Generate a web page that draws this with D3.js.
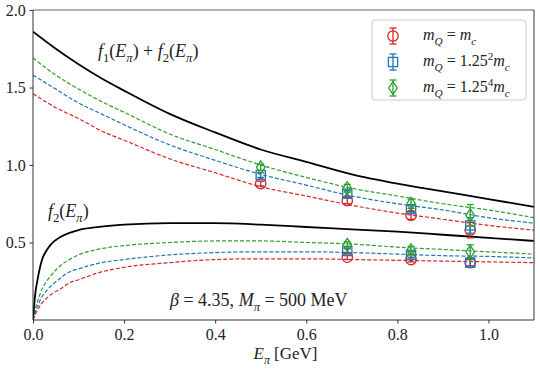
<!DOCTYPE html>
<html>
<head>
<meta charset="utf-8">
<script src="https://cdn.jsdelivr.net/npm/d3@7"></script>
<style>
  body { margin: 0; background: #fff; }
  svg text { font-family: "Liberation Serif", "Times New Roman", "DejaVu Serif", serif; fill: #222; }
</style>
</head>
<body>
<div id="chart"></div>
<script>
const SERIF = "'Liberation Serif', 'Times New Roman', 'DejaVu Serif', serif";

// grid of E_pi values for the smooth curves
const gridUpper = [0, 0.05, 0.1, 0.15, 0.2, 0.3, 0.4, 0.5, 0.6, 0.7, 0.8, 0.9, 1.0, 1.1];
const sumBlack = [1.86, 1.75, 1.65, 1.56, 1.48, 1.33, 1.21, 1.10, 1.02, 0.94, 0.88, 0.83, 0.78, 0.73];
const sumGreen = [1.69, 1.58, 1.49, 1.41, 1.34, 1.20, 1.10, 1.00, 0.92, 0.85, 0.80, 0.75, 0.71, 0.66];
const sumBlue = [1.58, 1.49, 1.40, 1.33, 1.26, 1.13, 1.03, 0.94, 0.87, 0.80, 0.75, 0.71, 0.66, 0.625];
const sumRed = [1.46, 1.37, 1.30, 1.22, 1.16, 1.04, 0.95, 0.86, 0.80, 0.74, 0.69, 0.65, 0.61, 0.58];

const gridLower = [0, 0.005, 0.01, 0.02, 0.03, 0.04, 0.06, 0.08, 0.1, 0.15, 0.2, 0.3, 0.4, 0.5, 0.6, 0.7, 0.8, 0.9, 1.0, 1.1];
const f2Black = [0, 0.17, 0.26, 0.39, 0.45, 0.49, 0.535, 0.562, 0.58, 0.602, 0.615, 0.625, 0.625, 0.615, 0.60, 0.585, 0.57, 0.55, 0.53, 0.51];
const f2Green = [0, 0.07, 0.12, 0.20, 0.25, 0.29, 0.35, 0.39, 0.42, 0.46, 0.48, 0.50, 0.51, 0.51, 0.50, 0.49, 0.47, 0.455, 0.44, 0.425];
const f2Blue = [0, 0.05, 0.09, 0.15, 0.19, 0.22, 0.27, 0.31, 0.33, 0.37, 0.39, 0.42, 0.435, 0.44, 0.44, 0.435, 0.425, 0.415, 0.41, 0.40];
const f2Red = [0, 0.035, 0.065, 0.11, 0.14, 0.165, 0.20, 0.24, 0.26, 0.31, 0.34, 0.37, 0.39, 0.395, 0.395, 0.39, 0.385, 0.38, 0.375, 0.37];

// lattice points: [E, value, error]
const ptsSumRed = [[0.5, 0.88, 0.015], [0.69, 0.77, 0.02], [0.83, 0.675, 0.025], [0.96, 0.58, 0.05]];
const ptsSumBlue = [[0.5, 0.935, 0.015], [0.69, 0.815, 0.02], [0.83, 0.715, 0.025], [0.96, 0.61, 0.05]];
const ptsSumGreen = [[0.5, 0.985, 0.02], [0.69, 0.85, 0.025], [0.83, 0.75, 0.03], [0.96, 0.675, 0.07]];
const ptsF2Red = [[0.69, 0.405, 0.015], [0.83, 0.39, 0.015], [0.96, 0.37, 0.02]];
const ptsF2Blue = [[0.69, 0.445, 0.015], [0.83, 0.42, 0.02], [0.96, 0.37, 0.03]];
const ptsF2Green = [[0.69, 0.485, 0.02], [0.83, 0.45, 0.025], [0.96, 0.44, 0.045]];

const xTicks = [0, 0.2, 0.4, 0.6, 0.8, 1.0];
const yTicks = [0.5, 1.0, 1.5, 2.0];

const RED = "#d62728", BLUE = "#1f77b4", GREEN = "#2ca02c";

const W = 540, H = 370;
const margin = { top: 10, right: 6, bottom: 50, left: 33 };
const width = W - margin.left - margin.right;
const height = H - margin.top - margin.bottom;

const svg = d3.select("#chart").append("svg")
    .attr("width", W).attr("height", H)
    .attr("font-family", SERIF);
const g = svg.append("g").attr("transform", `translate(${margin.left},${margin.top})`);

const x = d3.scaleLinear().domain([0, 1.1]).range([0, width]);
const y = d3.scaleLinear().domain([0, 2.0]).range([height, 0]);

g.append("clipPath").attr("id", "clip")
    .append("rect").attr("width", width).attr("height", height);

// rich text helper: parts = [text, style] with style flags i (italic), sub, sup
function rich(sel, parts, size) {
    let shift = 0;
    sel.attr("font-family", SERIF);
    parts.forEach(([t, st = ""]) => {
        let target = 0, fs = size;
        if (st.includes("sub")) { target = size * 0.3; fs = size * 0.7; }
        if (st.includes("sup")) { target = -size * 0.4; fs = size * 0.7; }
        sel.append("tspan")
            .attr("dy", target - shift)
            .attr("font-size", fs)
            .attr("font-style", st.includes("i") ? "italic" : "normal")
            .text(t);
        shift = target;
    });
    return sel;
}

// curves
const line = (grid) => d3.line().x((d, i) => x(grid[i])).y(d => y(d)).curve(d3.curveMonotoneX);
const curves = g.append("g").attr("clip-path", "url(#clip)");
[[sumRed, RED], [sumBlue, BLUE], [sumGreen, GREEN]].forEach(([vals, c]) => {
    curves.append("path").datum(vals).attr("d", line(gridUpper))
        .attr("fill", "none").attr("stroke", c).attr("stroke-width", 1.2).attr("stroke-dasharray", "4,2");
});
[[f2Red, RED], [f2Blue, BLUE], [f2Green, GREEN]].forEach(([vals, c]) => {
    curves.append("path").datum(vals).attr("d", line(gridLower))
        .attr("fill", "none").attr("stroke", c).attr("stroke-width", 1.2).attr("stroke-dasharray", "4,2");
});
curves.append("path").datum(sumBlack).attr("d", line(gridUpper))
    .attr("fill", "none").attr("stroke", "#000").attr("stroke-width", 1.8);
curves.append("path").datum(f2Black).attr("d", line(gridLower))
    .attr("fill", "none").attr("stroke", "#000").attr("stroke-width", 1.8);

// marker shapes
function marker(sel, kind, cx, cy, c) {
    if (kind === "circle") {
        sel.append("circle").attr("cx", cx).attr("cy", cy).attr("r", 5.2)
            .attr("fill", "none").attr("stroke", c).attr("stroke-width", 1.3);
    } else if (kind === "square") {
        sel.append("rect").attr("x", cx - 4.6).attr("y", cy - 4.6).attr("width", 9.2).attr("height", 9.2)
            .attr("fill", "none").attr("stroke", c).attr("stroke-width", 1.3);
    } else {
        sel.append("path").attr("d", `M${cx},${cy - 6.5}L${cx + 4.3},${cy}L${cx},${cy + 6.5}L${cx - 4.3},${cy}Z`)
            .attr("fill", "none").attr("stroke", c).attr("stroke-width", 1.3);
    }
}
function errPoint(sel, kind, cx, y0, y1, cy, c) {
    sel.append("line").attr("x1", cx).attr("x2", cx).attr("y1", y0).attr("y2", y1)
        .attr("stroke", c).attr("stroke-width", 1.3);
    [y0, y1].forEach(yy => sel.append("line").attr("x1", cx - 3.5).attr("x2", cx + 3.5)
        .attr("y1", yy).attr("y2", yy).attr("stroke", c).attr("stroke-width", 1.3));
    marker(sel, kind, cx, cy, c);
}

const pts = g.append("g");
[[ptsSumRed, "circle", RED], [ptsF2Red, "circle", RED],
 [ptsSumBlue, "square", BLUE], [ptsF2Blue, "square", BLUE],
 [ptsSumGreen, "diamond", GREEN], [ptsF2Green, "diamond", GREEN]].forEach(([arr, kind, c]) => {
    arr.forEach(([e, v, err]) => errPoint(pts, kind, x(e), y(v - err), y(v + err), y(v), c));
});

// axes
const ax = g.append("g").attr("transform", `translate(0,${height})`)
    .call(d3.axisBottom(x).tickValues(xTicks).tickFormat(d3.format(".1f")).tickSizeOuter(0).tickSize(3.5));
const ay = g.append("g")
    .call(d3.axisLeft(y).tickValues(yTicks).tickFormat(d3.format(".1f")).tickSizeOuter(0).tickSize(3.5));
[ax, ay].forEach(a => {
    a.attr("font-family", SERIF);
    a.select(".domain").remove();
    a.selectAll(".tick line").attr("stroke", "#333");
    a.selectAll(".tick text").attr("font-size", 16).attr("fill", "#222")
        .attr("font-family", SERIF);
});
ax.selectAll(".tick text").attr("dy", "0.85em");
ay.selectAll(".tick text").attr("dx", "-0.05em");

// frame
g.append("line").attr("x1", 0).attr("x2", width).attr("y1", 0).attr("y2", 0)
    .attr("stroke", "#999").attr("stroke-width", 1.6);
g.append("line").attr("x1", width).attr("x2", width).attr("y1", 0).attr("y2", height)
    .attr("stroke", "#333").attr("stroke-width", 1);
g.append("line").attr("x1", 0).attr("x2", 0).attr("y1", 0).attr("y2", height)
    .attr("stroke", "#333").attr("stroke-width", 1);
g.append("line").attr("x1", 0).attr("x2", width).attr("y1", height).attr("y2", height)
    .attr("stroke", "#333").attr("stroke-width", 1);

// labels
rich(svg.append("text").attr("x", 98).attr("y", 57),
    [["f", "i"], ["1", "sub"], ["("], ["E", "i"], ["π", "i sub"], [") + "], ["f", "i"], ["2", "sub"], ["("], ["E", "i"], ["π", "i sub"], [")"]], 18);
rich(svg.append("text").attr("x", 48).attr("y", 217),
    [["f", "i"], ["2", "sub"], ["("], ["E", "i"], ["π", "i sub"], [")"]], 18);
rich(svg.append("text").attr("x", 170).attr("y", 306),
    [["β", "i"], [" = 4.35, "], ["M", "i"], ["π", "i sub"], [" = 500 MeV"]], 18);
rich(svg.append("text").attr("x", margin.left + width / 2 + 2).attr("y", 359).attr("text-anchor", "middle"),
    [["E", "i"], ["π", "i sub"], [" [GeV]"]], 17);

// legend
const lg = svg.append("g");
lg.append("rect").attr("x", 372).attr("y", 20).attr("width", 154).attr("height", 80).attr("rx", 3)
    .attr("fill", "#fff").attr("fill-opacity", 0.8).attr("stroke", "#ccc");
const legendRows = [
    ["circle", RED, [["m", "i"], ["Q", "i sub"], [" = "], ["m", "i"], ["c", "i sub"]]],
    ["square", BLUE, [["m", "i"], ["Q", "i sub"], [" = 1.25"], ["2", "sup"], ["m", "i"], ["c", "i sub"]]],
    ["diamond", GREEN, [["m", "i"], ["Q", "i sub"], [" = 1.25"], ["4", "sup"], ["m", "i"], ["c", "i sub"]]]
];
legendRows.forEach(([kind, c, parts], i) => {
    const cy = 36 + i * 26;
    errPoint(lg, kind, 393, cy - 8, cy + 8, cy, c);
    rich(lg.append("text").attr("x", 423).attr("y", cy + 4), parts, 16);
});
</script>
</body>
</html>
